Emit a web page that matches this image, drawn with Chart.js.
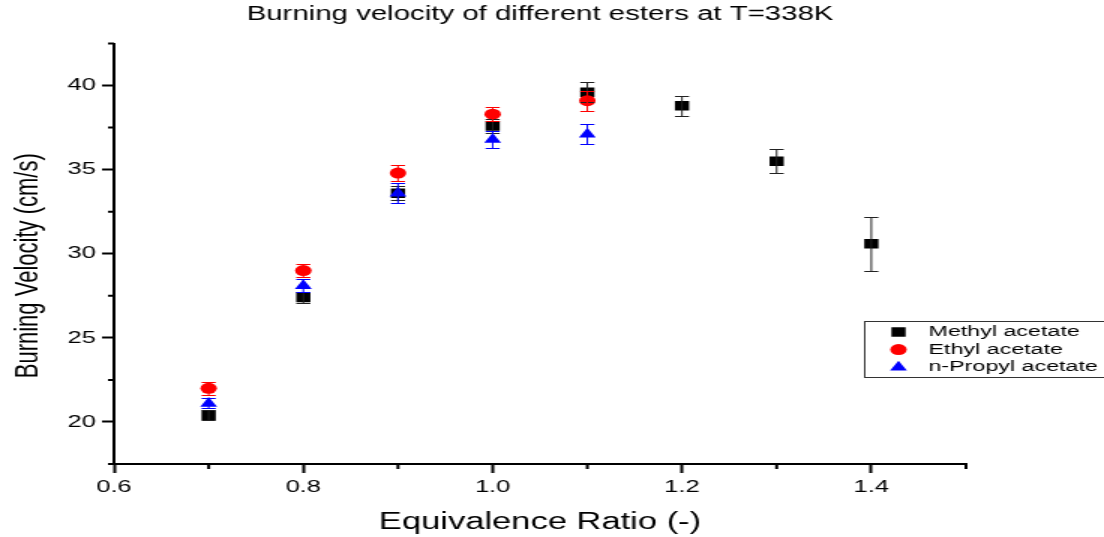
<!DOCTYPE html>
<html>
<head>
<meta charset="utf-8">
<title>Burning velocity of different esters</title>
<script src="https://cdn.jsdelivr.net/npm/chart.js@4.4.1/dist/chart.umd.min.js"></script>
<style>
  html, body { margin: 0; padding: 0; background: #fff; overflow: hidden; }
  #chart { display: block; }
</style>
</head>
<body>
<!-- drawn at 736 wide and shown 1.5x wider, like the original export -->
<canvas id="chart" width="736" height="537" style="width:1104px;height:537px"></canvas>
<script>
// equivalence ratio for each measurement
const phiMethyl = [0.7, 0.8, 0.9, 1.0, 1.1, 1.2, 1.3, 1.4];
const phiEthyl = [0.7, 0.8, 0.9, 1.0, 1.1];
const phiPropyl = [0.7, 0.8, 0.9, 1.0, 1.1];

// burning velocity (cm/s) and its uncertainty
const methylVel = [20.4, 27.4, 33.6, 37.6, 39.6, 38.8, 35.5, 30.6];
const methylErr = [0.3, 0.35, 0.4, 0.4, 0.6, 0.6, 0.7, 1.6];
const ethylVel = [22.0, 29.0, 34.8, 38.3, 39.1];
const ethylErr = [0.4, 0.4, 0.5, 0.4, 0.6];
const propylVel = [21.1, 28.1, 33.6, 36.8, 37.1];
const propylErr = [0.3, 0.4, 0.6, 0.5, 0.6];

// axis ticks
const xMajor = [0.6, 0.8, 1.0, 1.2, 1.4];
const xMinor = [0.7, 0.9, 1.1, 1.3, 1.5];
const yMajor = [20, 25, 30, 35, 40];
const yMinor = [17.5, 22.5, 27.5, 32.5, 37.5, 42.5];

const yTitle = 'Burning Velocity (cm/s)';

const FONT = '"Liberation Sans", Arial, Helvetica, sans-serif';
Chart.defaults.font.family = FONT;
Chart.defaults.color = '#000';

const toPoints = (xs, ys) => xs.map((x, i) => ({ x: x, y: ys[i] }));

// vertical error bars with caps, drawn on top of the symbols
const errorBars = {
  id: 'errorBars',
  afterDatasetsDraw(chart) {
    const { ctx, scales: { x, y } } = chart;
    const cap = 4.7;
    ctx.save();
    ctx.lineWidth = 1;
    chart.data.datasets.forEach(ds => {
      ctx.strokeStyle = ds.errorColor;
      ds.data.forEach((p, i) => {
        const err = ds.errors[i];
        const px = x.getPixelForValue(p.x);
        const top = Math.round(y.getPixelForValue(p.y + err)) + 0.5;
        const bot = Math.round(y.getPixelForValue(p.y - err)) + 0.5;
        ctx.beginPath();
        ctx.moveTo(px, top);
        ctx.lineTo(px, bot);
        ctx.moveTo(px - cap, top);
        ctx.lineTo(px + cap, top);
        ctx.moveTo(px - cap, bot);
        ctx.lineTo(px + cap, bot);
        ctx.stroke();
      });
    });
    ctx.restore();
  }
};

// short minor ticks between the labelled ones, plus the rotated y title
const axisExtras = {
  id: 'axisExtras',
  afterDraw(chart) {
    const { ctx, chartArea, scales: { x, y } } = chart;
    ctx.save();
    ctx.strokeStyle = '#000';
    ctx.lineWidth = 2;
    ctx.beginPath();
    xMinor.forEach(v => {
      const px = x.getPixelForValue(v);
      ctx.moveTo(px, chartArea.bottom);
      ctx.lineTo(px, chartArea.bottom + 5);
    });
    yMinor.forEach(v => {
      const py = y.getPixelForValue(v);
      ctx.moveTo(chartArea.left, py);
      ctx.lineTo(chartArea.left - 4, py);
    });
    ctx.stroke();

    // title sits a little below the middle of the axis
    ctx.translate(18.7, (chartArea.top + chartArea.bottom) / 2 + 12);
    ctx.rotate(-Math.PI / 2);
    ctx.font = '22px ' + FONT;
    ctx.fillStyle = '#000';
    ctx.textAlign = 'center';
    ctx.textBaseline = 'middle';
    ctx.fillText(yTitle, 0, 0);
    ctx.restore();
  }
};

// framed legend sitting to the lower right of the plot
const legendBox = {
  id: 'legendBox',
  afterDraw(chart) {
    const { ctx } = chart;
    const left = 576, top = 321, rowH = 17.6;
    ctx.save();
    ctx.strokeStyle = '#333';
    ctx.lineWidth = 1;
    ctx.strokeRect(left + 0.5, top + 0.5, chart.width, 56);
    ctx.font = '15.5px ' + FONT;
    ctx.textBaseline = 'middle';
    chart.data.datasets.forEach((ds, i) => {
      const cy = top + 11 + i * rowH;
      ctx.fillStyle = ds.backgroundColor;
      Chart.helpers.drawPoint(ctx, {
        pointStyle: ds.pointStyle,
        radius: ds.pointRadius,
        rotation: 0,
        borderWidth: 0
      }, 599, cy);
      ctx.fillStyle = '#000';
      ctx.fillText(ds.label, 619, cy);
    });
    ctx.restore();
  }
};

new Chart(document.getElementById('chart'), {
  type: 'scatter',
  data: {
    datasets: [
      {
        label: 'Methyl acetate',
        data: toPoints(phiMethyl, methylVel),
        errors: methylErr,
        errorColor: '#222',
        pointStyle: 'rect',
        pointRadius: 6.7,
        pointHoverRadius: 6.7,
        backgroundColor: '#000',
        borderColor: '#000',
        borderWidth: 0,
        order: 3
      },
      {
        label: 'Ethyl acetate',
        data: toPoints(phiEthyl, ethylVel),
        errors: ethylErr,
        errorColor: '#f00',
        pointStyle: 'circle',
        pointRadius: 5.5,
        pointHoverRadius: 5.5,
        backgroundColor: '#f00',
        borderColor: '#f00',
        borderWidth: 0,
        order: 2
      },
      {
        label: 'n-Propyl acetate',
        data: toPoints(phiPropyl, propylVel),
        errors: propylErr,
        errorColor: '#00f',
        pointStyle: 'triangle',
        pointRadius: 6.5,
        pointHoverRadius: 6.5,
        backgroundColor: '#00f',
        borderColor: '#00f',
        borderWidth: 0,
        order: 1
      }
    ]
  },
  options: {
    responsive: false,
    animation: false,
    devicePixelRatio: 1,
    layout: { padding: { left: 0, right: 92, top: 0, bottom: 0 } },
    plugins: {
      legend: { display: false },
      tooltip: { enabled: false },
      title: {
        display: true,
        fullSize: false,
        text: 'Burning velocity of different esters at T=338K',
        font: { size: 19.6, weight: 'normal' },
        color: '#000',
        padding: { top: 3, bottom: 17 }
      }
    },
    scales: {
      x: {
        type: 'linear',
        min: 0.6,
        max: 1.5,
        afterBuildTicks: axis => { axis.ticks = xMajor.map(v => ({ value: v })); },
        afterFit: axis => { axis.height = 73; },
        ticks: {
          font: { size: 17 },
          color: '#000',
          padding: 4,
          callback: v => v.toFixed(1)
        },
        grid: {
          drawOnChartArea: false,
          drawTicks: true,
          tickLength: 9,
          tickWidth: 2,
          tickColor: '#000'
        },
        border: { display: true, color: '#000', width: 2 },
        title: {
          display: true,
          text: 'Equivalence Ratio (-)',
          font: { size: 23, weight: 'normal' },
          color: '#000',
          padding: { top: 0, bottom: 1 }
        }
      },
      y: {
        type: 'linear',
        min: 17.5,
        max: 42.5,
        afterBuildTicks: axis => { axis.ticks = yMajor.map(v => ({ value: v })); },
        afterFit: axis => { axis.width = 76; },
        ticks: {
          font: { size: 17 },
          color: '#000',
          padding: 4,
          callback: v => String(v)
        },
        grid: {
          drawOnChartArea: false,
          drawTicks: true,
          tickLength: 8,
          tickWidth: 2,
          tickColor: '#000'
        },
        border: { display: true, color: '#000', width: 2 }
      }
    }
  },
  plugins: [errorBars, axisExtras, legendBox]
});
</script>
</body>
</html>
